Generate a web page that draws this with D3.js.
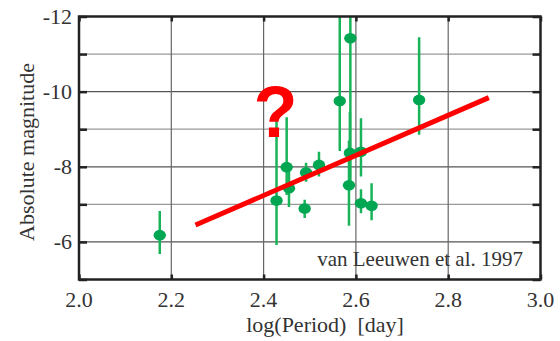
<!DOCTYPE html>
<html>
<head>
<meta charset="utf-8">
<script src="https://cdn.jsdelivr.net/npm/d3@7"></script>
<style>
  html, body { margin: 0; padding: 0; background: #fff; }
  svg { display: block; }
  text { font-family: "Liberation Serif", "Times New Roman", serif; fill: #333; }
</style>
</head>
<body>
<svg id="chart" width="560" height="341"></svg>
<script>
// Cepheid-like period–luminosity data (van Leeuwen et al. 1997)
const logPeriod   = [2.175, 2.428, 2.450, 2.455, 2.489, 2.492, 2.520, 2.565, 2.588, 2.587, 2.585, 2.611, 2.611, 2.634, 2.737];
const absMag      = [-6.18, -7.10, -7.99, -7.43, -6.89, -7.85, -8.05, -9.75, -11.42, -8.37, -7.51, -8.40, -7.03, -6.96, -9.78];
const magBright   = [-6.82, -9.30, -9.32, -7.87, -7.12, -8.11, -8.40, -12.5, -12.5, -9.46, -8.70, -9.29, -7.40, -7.56, -11.45];
const magFaint    = [-5.68, -5.92, -7.25, -6.93, -6.64, -7.60, -7.74, -8.42, -7.60, -7.70, -6.43, -7.74, -6.76, -6.58, -8.85];

// Fitted relation endpoints
const fitLogP = [2.2525, 2.888];
const fitMag  = [-6.45, -9.84];

const xTicks = [2.0, 2.2, 2.4, 2.6, 2.8, 3.0];
const yTicks = [-12, -10, -8, -6];
const yGrid  = [-11, -10, -9, -8, -7, -6];

const svg = d3.select("#chart");
const pLeft = 79, pRight = 540.5, pTop = 16.5, pBottom = 279.5;

const x = d3.scaleLinear().domain([2.0, 3.0]).range([pLeft, pRight]);
const y = d3.scaleLinear().domain([-12, -5]).range([pTop, pBottom]);

svg.append("defs").append("clipPath").attr("id", "plotClip")
  .append("rect").attr("x", pLeft).attr("y", pTop)
  .attr("width", pRight - pLeft).attr("height", pBottom - pTop);

// grid
const grid = svg.append("g");
grid.selectAll("line.h").data(yGrid).join("line")
  .attr("x1", pLeft).attr("x2", pRight)
  .attr("y1", d => y(d)).attr("y2", d => y(d))
  .attr("stroke", d => d % 2 === 0 ? "#555" : "#999")
  .attr("stroke-width", 1.2);
grid.selectAll("line.v").data(xTicks.slice(1, -1)).join("line")
  .attr("y1", pTop).attr("y2", pBottom)
  .attr("x1", d => x(d)).attr("x2", d => x(d))
  .attr("stroke", "#666").attr("stroke-width", 1.2);

// inward ticks on all four sides
const tickStyle = g => {
  g.select(".domain").remove();
  g.selectAll(".tick line").attr("stroke", "#222").attr("stroke-width", 2.5);
  g.selectAll(".tick text").remove();
};
const yInts = d3.range(-12, -4);
svg.append("g").attr("transform", `translate(${pLeft},0)`)
  .call(d3.axisRight(y).tickValues(yInts).tickSize(8)).call(tickStyle);
svg.append("g").attr("transform", `translate(${pRight},0)`)
  .call(d3.axisLeft(y).tickValues(yInts).tickSize(8)).call(tickStyle);
svg.append("g").attr("transform", `translate(0,${pBottom})`)
  .call(d3.axisTop(x).tickValues(xTicks).tickSize(5)).call(tickStyle);
svg.append("g").attr("transform", `translate(0,${pTop})`)
  .call(d3.axisBottom(x).tickValues(xTicks).tickSize(5)).call(tickStyle);

// data
const plot = svg.append("g").attr("clip-path", "url(#plotClip)");
const idx = d3.range(logPeriod.length);
plot.selectAll("line.err").data(idx).join("line")
  .attr("x1", i => x(logPeriod[i])).attr("x2", i => x(logPeriod[i]))
  .attr("y1", i => y(magBright[i])).attr("y2", i => y(magFaint[i]))
  .attr("stroke", "#19b359").attr("stroke-width", 2.5);
plot.selectAll("ellipse").data(idx).join("ellipse")
  .attr("cx", i => x(logPeriod[i])).attr("cy", i => y(absMag[i]))
  .attr("rx", 6.2).attr("ry", 5.3)
  .attr("fill", "#00a651");

// fitted line
plot.append("line")
  .attr("x1", x(fitLogP[0])).attr("y1", y(fitMag[0]))
  .attr("x2", x(fitLogP[1])).attr("y2", y(fitMag[1]))
  .attr("stroke", "#ff0000").attr("stroke-width", 5);

// frame
svg.append("rect").attr("x", pLeft).attr("y", pTop)
  .attr("width", pRight - pLeft).attr("height", pBottom - pTop)
  .attr("fill", "none").attr("stroke", "#222").attr("stroke-width", 2.5);

// question mark
svg.append("text").attr("x", 275.5).attr("y", 137)
  .attr("text-anchor", "middle")
  .style("font-family", "'Liberation Sans', Arial, sans-serif")
  .style("font-weight", "bold").style("font-size", "72px")
  .style("fill", "#ff0000").text("?");

// tick labels
svg.selectAll("text.xl").data(xTicks).join("text")
  .attr("x", d => x(d)).attr("y", 307)
  .attr("text-anchor", "middle").style("font-size", "22px")
  .text(d => d.toFixed(1));
svg.selectAll("text.yl").data(yTicks).join("text")
  .attr("x", 72).attr("y", d => y(d) + 7.5)
  .attr("text-anchor", "end").style("font-size", "22px")
  .text(d => d);

// axis titles
svg.append("text").attr("x", 325).attr("y", 332)
  .attr("text-anchor", "middle").style("font-size", "22px")
  .style("white-space", "pre").text("log(Period)  [day]");
svg.append("text")
  .attr("transform", `translate(34,${(pTop + pBottom) / 2 + 4}) rotate(-90)`)
  .attr("text-anchor", "middle").style("font-size", "22px")
  .text("Absolute magnitude");

// citation
svg.append("text").attr("x", 523).attr("y", 266)
  .attr("text-anchor", "end").style("font-size", "21px")
  .text("van Leeuwen et al. 1997");
</script>
</body>
</html>
